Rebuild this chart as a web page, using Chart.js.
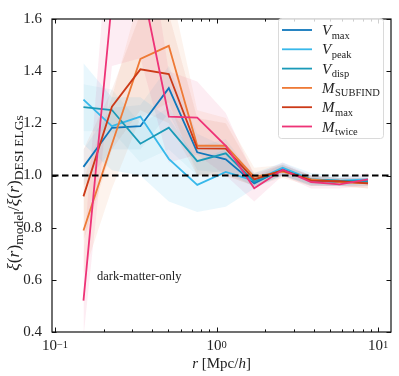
<!DOCTYPE html>
<html lang="en">
<head>
<meta charset="UTF-8">
<title>Clustering ratio</title>
<script src="https://cdn.jsdelivr.net/npm/chart.js"></script>
<style>
    body { margin: 0; background: #fff; }
    #wrap { position: relative; width: 399px; height: 376px; }
</style>
</head>
<body>
<div id="wrap"><canvas id="chart"></canvas></div>
<script>
// separation bins r [Mpc/h]
const rValues = [0.15, 0.225, 0.3375, 0.506, 0.759, 1.139, 1.709, 2.563, 3.844, 5.767, 8.65];

// xi_model / xi_DESI for each proxy
const vmaxRatio    = [1.033, 1.183, 1.189, 1.335, 1.089, 1.062, 0.970, 1.025, 0.980, 0.975, 0.975];
const vpeakRatio   = [1.291, 1.189, 1.226, 1.064, 0.964, 1.014, 0.980, 1.030, 0.985, 0.980, 0.985];
const vdispRatio   = [1.262, 1.251, 1.122, 1.183, 1.055, 1.085, 0.976, 1.020, 0.985, 0.980, 0.978];
const msubRatio    = [0.789, 1.120, 1.447, 1.497, 1.114, 1.114, 0.995, 1.015, 0.985, 0.975, 0.970];
const mmaxRatio    = [0.920, 1.264, 1.407, 1.389, 1.104, 1.103, 0.985, 1.020, 0.980, 0.978, 0.970];
const mtwiceRatio  = [0.520, 1.670, 1.760, 1.226, 1.222, 1.114, 0.951, 1.022, 0.975, 0.966, 0.985];

// shaded uncertainty bands (lower / upper)
const vmaxLo   = [0.96, 1.10, 1.10, 1.24, 1.02, 1.01, 0.96, 1.00, 0.965, 0.96, 0.96];
const vmaxHi   = [1.10, 1.26, 1.27, 1.42, 1.16, 1.11, 0.99, 1.045, 0.995, 0.99, 0.99];
const vpeakLo  = [1.12, 1.02, 1.00, 0.90, 0.86, 0.88, 0.95, 1.00, 0.96, 0.96, 0.97];
const vpeakHi  = [1.43, 1.30, 1.30, 1.22, 1.06, 1.10, 1.01, 1.05, 1.01, 1.00, 1.00];
const vdispLo  = [1.17, 1.17, 1.05, 1.10, 1.00, 1.02, 0.955, 1.00, 0.965, 0.96, 0.96];
const vdispHi  = [1.35, 1.33, 1.20, 1.26, 1.11, 1.14, 0.995, 1.04, 1.00, 0.99, 0.99];
const msubLo   = [0.62, 0.95, 1.22, 1.28, 1.00, 1.00, 0.96, 0.99, 0.96, 0.96, 0.95];
const msubHi   = [0.98, 1.30, 1.70, 1.75, 1.25, 1.22, 1.03, 1.04, 1.00, 0.99, 0.99];
const mmaxLo   = [0.75, 1.10, 1.25, 1.20, 1.00, 1.00, 0.96, 1.00, 0.96, 0.96, 0.95];
const mmaxHi   = [1.10, 1.33, 1.62, 1.62, 1.22, 1.20, 1.01, 1.04, 1.00, 0.99, 0.99];
const mtwiceLo = [0.38, 1.42, 1.45, 1.05, 1.08, 1.00, 0.90, 1.00, 0.95, 0.95, 0.96];
const mtwiceHi = [0.70, 2.10, 2.10, 1.40, 1.36, 1.24, 1.00, 1.05, 1.00, 0.99, 1.01];

const seriesSym  = ["V", "V", "V", "M", "M", "M"];
const seriesSub  = ["max", "peak", "disp", "SUBFIND", "max", "twice"];
const colors     = ["#0f77bb", "#38b8ea", "#1a9ab8", "#ee7a36", "#cc3a18", "#ee3377"];
const bandAlpha  = [0.06, 0.11, 0.06, 0.09, 0.08, 0.09];
const ratios     = [vmaxRatio, vpeakRatio, vdispRatio, msubRatio, mmaxRatio, mtwiceRatio];
const bandsLo    = [vmaxLo, vpeakLo, vdispLo, msubLo, mmaxLo, mtwiceLo];
const bandsHi    = [vmaxHi, vpeakHi, vdispHi, msubHi, mmaxHi, mtwiceHi];

const xRange = [0.0958, 12.0];
const yRange = [0.4, 1.6];
const yTicks = [0.4, 0.6, 0.8, 1.0, 1.2, 1.4, 1.6];
const xMajor = [0.1, 1, 10];
const xMajorExp = ["\u22121", "0", "1"];
const xMinor = [0.2, 0.3, 0.4, 0.5, 0.6, 0.7, 0.8, 0.9, 2, 3, 4, 5, 6, 7, 8, 9];
const refLevel = 1.0;

const SERIF = "'Liberation Serif', 'DejaVu Serif', serif";

function pts(vals) {
    return rValues.map((r, i) => ({ x: r, y: vals[i] }));
}
function hexA(hex, a) {
    const n = parseInt(hex.slice(1), 16);
    return `rgba(${(n >> 16) & 255}, ${(n >> 8) & 255}, ${n & 255}, ${a})`;
}

let datasets = [];
// reference line on top
datasets.push({
    data: xRange.map(x => ({ x: x, y: refLevel })),
    borderColor: "#000", borderWidth: 1.8, borderDash: [6.5, 3.5],
    pointRadius: 0, fill: false, order: -1
});
ratios.forEach((vals, i) => {
    datasets.push({
        data: pts(vals), borderColor: colors[i], borderWidth: 1.8,
        pointRadius: 0, tension: 0, fill: false, order: 10 - i
    });
});
bandsHi.forEach((hi, i) => {
    datasets.push({
        data: pts(hi), borderWidth: 0, pointRadius: 0, tension: 0,
        backgroundColor: hexA(colors[i], bandAlpha[i]), fill: "+1", order: 30 + i
    });
    datasets.push({
        data: pts(bandsLo[i]), borderWidth: 0, pointRadius: 0, tension: 0,
        fill: false, order: 30 + i
    });
});

function drawRich(ctx, parts, x, y, size, subSize) {
    let w = 0;
    parts.forEach(p => {
        ctx.font = (p.it ? "italic " : "") + (p.sub ? subSize : size) + "px " + SERIF;
        p.w = ctx.measureText(p.t).width;
        w += p.w;
    });
    let cx = x - w / 2;
    parts.forEach(p => {
        ctx.font = (p.it ? "italic " : "") + (p.sub ? subSize : size) + "px " + SERIF;
        ctx.fillText(p.t, cx, y + (p.sub ? size * 0.25 : 0) - (p.sup ? size * 0.38 : 0));
        cx += p.w;
    });
    return w;
}

const decorPlugin = {
    id: "decor",
    afterDraw(chart) {
        const ctx = chart.ctx;
        const a = chart.chartArea;
        const xs = chart.scales.x, ys = chart.scales.y;
        ctx.save();
        ctx.fillStyle = "#111";
        ctx.strokeStyle = "#111";
        ctx.textBaseline = "alphabetic";
        ctx.textAlign = "left";

        // ticks pointing inward
        ctx.lineWidth = 1;
        ctx.beginPath();
        xMajor.forEach(v => {
            const px = Math.round(xs.getPixelForValue(v)) + 0.5;
            ctx.moveTo(px, a.bottom); ctx.lineTo(px, a.bottom - 4.5);
            ctx.moveTo(px, a.top); ctx.lineTo(px, a.top + 4.5);
        });
        xMinor.forEach(v => {
            const px = Math.round(xs.getPixelForValue(v)) + 0.5;
            ctx.moveTo(px, a.bottom); ctx.lineTo(px, a.bottom - 2.6);
            ctx.moveTo(px, a.top); ctx.lineTo(px, a.top + 2.6);
        });
        yTicks.forEach(v => {
            const py = Math.round(ys.getPixelForValue(v)) + 0.5;
            ctx.moveTo(a.left, py); ctx.lineTo(a.left + 4.5, py);
            ctx.moveTo(a.right, py); ctx.lineTo(a.right - 4.5, py);
        });
        ctx.stroke();

        // frame
        ctx.lineWidth = 1.2;
        ctx.strokeRect(a.left, a.top, a.right - a.left, a.bottom - a.top);

        // x tick labels 10^n
        ctx.fillStyle = "#222";
        xMajor.forEach((v, i) => {
            const px = xs.getPixelForValue(v);
            drawRich(ctx, [{ t: "10" }, { t: xMajorExp[i], sup: true, sub: true }], px, a.bottom + 18, 15, 10.5);
        });

        // axis titles
        drawRich(ctx, [{ t: "r", it: true }, { t: " [Mpc/" }, { t: "h", it: true }, { t: "]" }],
            (a.left + a.right) / 2, 368, 15, 10.5);
        ctx.save();
        ctx.translate(19, 193);
        ctx.rotate(-Math.PI / 2);
        drawRich(ctx, [
            { t: "\u03BE", it: true }, { t: "(" }, { t: "r", it: true }, { t: ")" },
            { t: "model", sub: true }, { t: "/" },
            { t: "\u03BE", it: true }, { t: "(" }, { t: "r", it: true }, { t: ")" },
            { t: "DESI ELGs", sub: true }
        ], 0, 0, 17.5, 13.5);
        ctx.restore();

        // annotation
        ctx.font = "12.5px " + SERIF;
        ctx.fillText("dark-matter-only", 97, 280);

        // legend
        const lx = 278, ly = 18, lw = 105, lh = 120;
        ctx.fillStyle = "rgba(255,255,255,0.8)";
        ctx.strokeStyle = "#dadada";
        ctx.lineWidth = 1;
        ctx.beginPath();
        ctx.roundRect(lx + 0.5, ly + 0.5, lw, lh, 3);
        ctx.fill();
        ctx.stroke();
        seriesSym.forEach((s, i) => {
            const yy = 30 + i * 19.3;
            ctx.strokeStyle = colors[i];
            ctx.lineWidth = 1.8;
            ctx.beginPath();
            ctx.moveTo(282, yy); ctx.lineTo(312, yy);
            ctx.stroke();
            ctx.fillStyle = "#222";
            ctx.font = "italic 15px " + SERIF;
            const w = ctx.measureText(s).width;
            ctx.fillText(s, 322, yy + 5);
            ctx.font = "10.5px " + SERIF;
            ctx.fillText(seriesSub[i], 322 + w + 0.5, yy + 8.5);
        });
        ctx.restore();
    }
};

new Chart(document.getElementById("chart"), {
    type: "line",
    data: { datasets: datasets },
    options: {
        responsive: true,
        maintainAspectRatio: false,
        animation: false,
        events: [],
        layout: { padding: { left: 0, right: 8, top: 12, bottom: 0 } },
        plugins: { legend: { display: false }, tooltip: { enabled: false } },
        scales: {
            x: {
                type: "logarithmic", min: xRange[0], max: xRange[1],
                grid: { display: false, drawTicks: false }, border: { display: false },
                ticks: { display: false },
                afterFit: s => { s.height = 44; }
            },
            y: {
                min: yRange[0], max: yRange[1],
                grid: { display: false, drawTicks: false }, border: { display: false },
                afterBuildTicks: s => { s.ticks = yTicks.map(v => ({ value: v })); },
                ticks: {
                    color: "#222", padding: 10,
                    font: { family: SERIF, size: 15 },
                    callback: v => v.toFixed(1)
                },
                afterFit: s => { s.width = 52; }
            }
        }
    },
    plugins: [decorPlugin]
});
</script>
</body>
</html>
